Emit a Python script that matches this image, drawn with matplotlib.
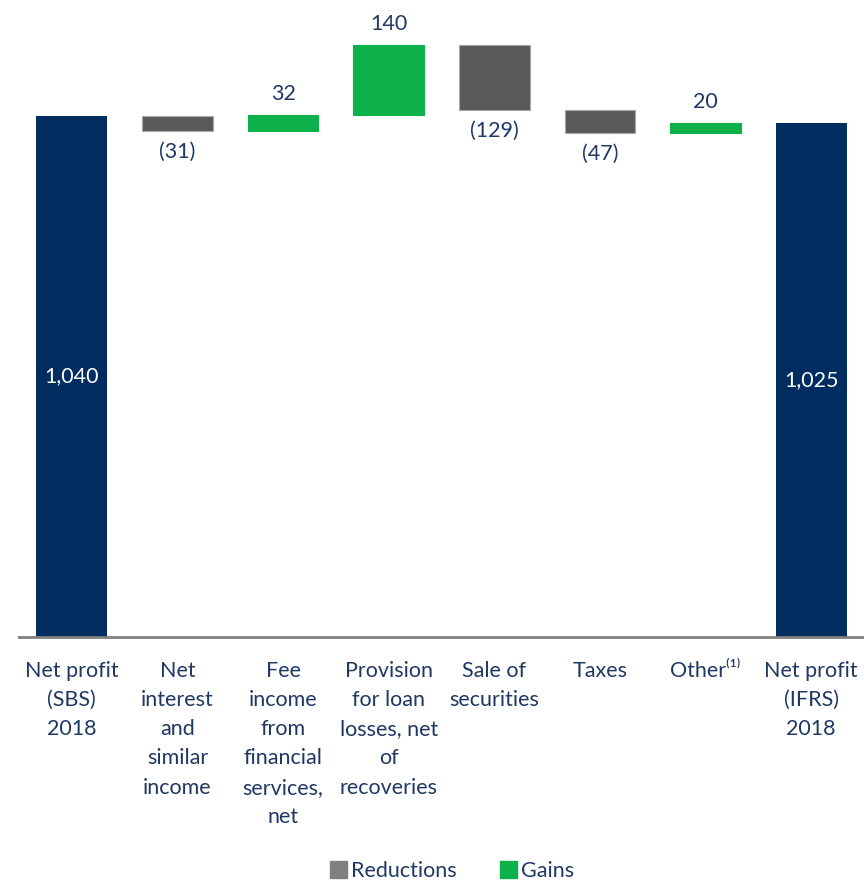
import matplotlib
matplotlib.use("Agg")
import matplotlib.pyplot as plt
from matplotlib.patches import Patch

categories = [
    "Net profit\n(SBS)\n2018",
    "Net\ninterest\nand\nsimilar\nincome",
    "Fee\nincome\nfrom\nfinancial\nservices,\nnet",
    "Provision\nfor loan\nlosses, net\nof\nrecoveries",
    "Sale of\nsecurities",
    "Taxes",
    "Other\u207d\u00b9\u207e",
    "Net profit\n(IFRS)\n2018",
]
start_value = 1040
changes = [-31, 32, 140, -129, -47, 20]
end_value = 1025

NAVY = "#002d5f"
GREY = "#595959"
GREEN = "#0cb14b"
TEXT = "#1f3864"

plt.rcParams["font.family"] = ["Lato", "DejaVu Sans"]

fig = plt.figure(figsize=(8.64, 8.8), dpi=100)
ax = fig.add_axes([19 / 864, 1 - 637 / 880, 845 / 864, 637 / 880])

width = 0.67
fs = 15.5

# totals
ax.bar(0, start_value, width=width, color=NAVY)
ax.bar(7, end_value, width=width, color=NAVY)
ax.text(0, start_value / 2, f"{start_value:,}", ha="center", va="center",
        color="white", fontsize=fs)
ax.text(7, end_value / 2, f"{end_value:,}", ha="center", va="center",
        color="white", fontsize=fs)

# floating changes
running = start_value
for i, ch in enumerate(changes, start=1):
    bottom = running if ch > 0 else running + ch
    color = GREEN if ch > 0 else GREY
    edge = GREEN if ch > 0 else "#a6a6a6"
    ax.bar(i, abs(ch), bottom=bottom, width=width, color=color,
           edgecolor=edge, linewidth=0.8)
    if ch > 0:
        ax.text(i, running + ch + 22, f"{ch}", ha="center", va="bottom",
                color=TEXT, fontsize=fs)
    else:
        ax.text(i, running + ch - 22, f"({abs(ch)})", ha="center", va="top",
                color=TEXT, fontsize=fs)
    running += ch

ax.set_xlim(-0.5, 7.5)
ax.set_ylim(0, 1271)
for s in ["top", "right", "left"]:
    ax.spines[s].set_visible(False)
ax.spines["bottom"].set_color("#808080")
ax.spines["bottom"].set_linewidth(2)
ax.set_yticks([])
ax.set_xticks(range(len(categories)))
ax.set_xticklabels(categories, fontsize=fs, color=TEXT, va="top")
for lbl in ax.get_xticklabels():
    lbl.set_linespacing(1.58)
ax.tick_params(axis="x", length=0, pad=17)

handles = [Patch(color="#808080", label="Reductions"),
           Patch(color=GREEN, label="Gains")]
fig.legend(handles=handles, loc="center", bbox_to_anchor=(452 / 864, 1 - 871 / 880),
           ncol=2, frameon=False, fontsize=fs, handlelength=0.8,
           handleheight=0.8, handletextpad=0.2, columnspacing=2.0,
           labelcolor=TEXT)

fig.savefig("out.png", dpi=100)
